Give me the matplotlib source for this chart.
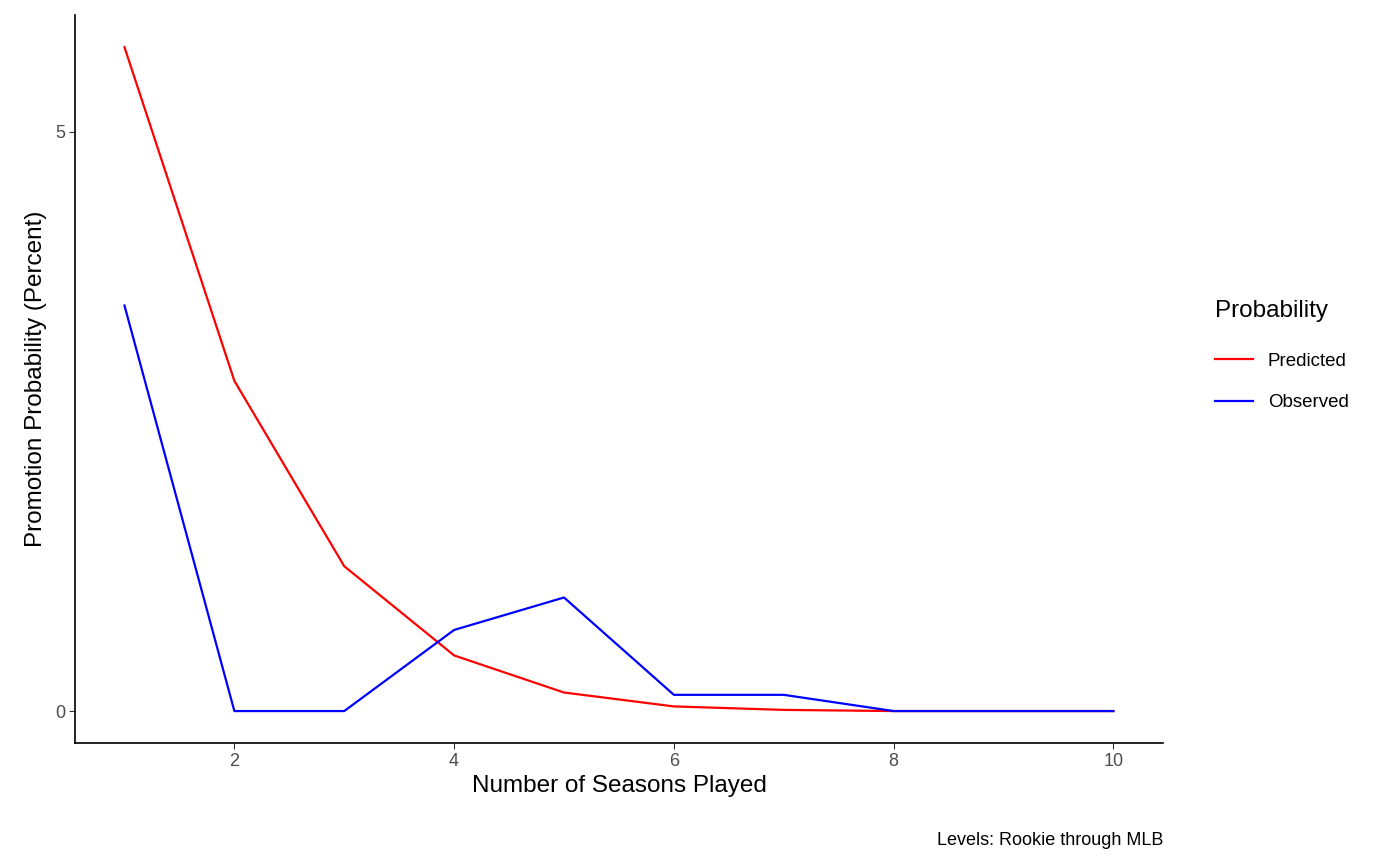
import matplotlib
matplotlib.use("Agg")
import matplotlib.pyplot as plt
from matplotlib.lines import Line2D

plt.rcParams["font.family"] = ["Liberation Sans", "DejaVu Sans"]

seasons = [1, 2, 3, 4, 5, 6, 7, 8, 9, 10]
predicted = [5.73, 2.85, 1.25, 0.48, 0.16, 0.04, 0.01, 0.0, 0.0, 0.0]
observed = [3.50, 0.0, 0.0, 0.70, 0.98, 0.14, 0.14, 0.0, 0.0, 0.0]

fig = plt.figure(figsize=(14, 8.65), dpi=100)
ax = fig.add_axes([0.0536, 0.141, 0.777, 0.842])

ax.plot(seasons, predicted, color="#FF0000", linewidth=1.6)
ax.plot(seasons, observed, color="#0000FF", linewidth=1.6)

ax.set_xlim(0.55, 10.45)
ax.set_ylim(-0.276, 6.01)
ax.set_xticks([2, 4, 6, 8, 10])
ax.set_yticks([0, 5])
ax.tick_params(labelsize=13, labelcolor="#4D4D4D", color="#333333", length=4, pad=3)
for side in ["top", "right"]:
    ax.spines[side].set_visible(False)
for side in ["left", "bottom"]:
    ax.spines[side].set_linewidth(1.2)

ax.set_xlabel("Number of Seasons Played", fontsize=17.5, labelpad=4)
ax.set_ylabel("Promotion Probability (Percent)", fontsize=17.5, labelpad=6)

handles = [Line2D([], [], color="#FF0000", linewidth=1.6),
           Line2D([], [], color="#0000FF", linewidth=1.6)]
leg = fig.legend(handles, ["Predicted", "Observed"], title="Probability",
                 loc="center left", bbox_to_anchor=(0.856, 0.585),
                 frameon=False, fontsize=13.5, title_fontsize=17.5,
                 handlelength=2.0, labelspacing=1.3, alignment="left")
leg.get_title().set_position((0, 6))

fig.text(0.8307, 0.018, "Levels: Rookie through MLB", ha="right", va="bottom", fontsize=13)

fig.savefig("out.png", dpi=100)
